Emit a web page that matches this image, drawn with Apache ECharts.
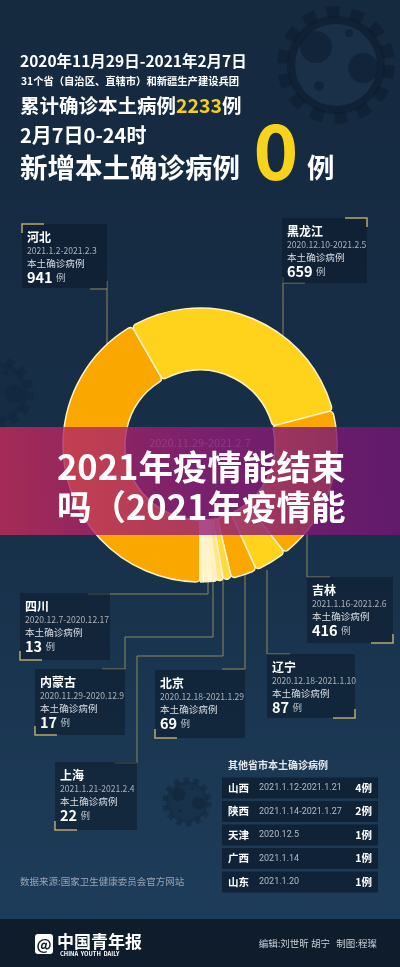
<!DOCTYPE html>
<html><head><meta charset="utf-8">
<script src="https://cdn.jsdelivr.net/npm/echarts@6/dist/echarts.min.js"></script>
<style>html,body{margin:0;padding:0;background:#15293f;}#c{width:400px;height:967px;}</style>
</head><body><div id="c"></div>
<script>
// ---------- data ----------
const provinces = ['河北','黑龙江','吉林','辽宁','北京','上海','内蒙古','四川','山西','陕西','天津','广西','山东'];
const cases     = [941, 659, 416, 87, 69, 22, 17, 13, 4, 2, 1, 1, 1];
const periods   = ['2021.1.2-2021.2.3','2020.12.10-2021.2.5','2021.1.16-2021.2.6','2020.12.18-2021.1.10',
                   '2020.12.18-2021.1.29','2021.1.21-2021.2.4','2020.11.29-2020.12.9','2020.12.7-2020.12.17',
                   '2021.1.12-2021.1.21','2021.1.14-2021.1.27','2020.12.5','2021.1.14','2021.1.20'];
const totalCases = 2233;
const newCases = 0;
const rangeText = '2020年11月29日-2021年2月7日';
const centerRange = '2020.11.29-2021.2.7';
const scopeText = '31个省（自治区、直辖市）和新疆生产建设兵团';
const dayText = '2月7日0-24时';
const bannerLines = ['2021年疫情能结束', '吗（2021年疫情能'];
const sourceText = '数据来源:国家卫生健康委员会官方网站';
const creditText = '编辑:刘世昕 胡宁   制图:程璨';
const otherTitle = '其他省市本土确诊病例';

// ---------- styles / layout ----------
const F = '"Noto Sans CJK SC","Noto Sans",sans-serif';
const sliceColors = ['#FAA800','#FFD21C','#FAA800','#FFD21C','#FAA800','#FFDA3A','#FFE789','#FFF2BE','#FFFBE6','#FFFFFF','#FFF3C8','#FFFFFF','#FFF0B8'];
const lineColor = '#8f885c';
const bracketColor = '#b5a86e';
// callout boxes for first 8 provinces: [x, y, w, h, bracketCorner]
const boxes = [
  [22,224,85,64,'tl'], [282,218,85,65,'tr'], [307,577,86,66,'br'], [267,654,88,64,'br'],
  [155,670,90,68,'bl'], [55,762,82,68,'bl'], [35,669,90,66,'bl'], [20,593,90,67,'bl']
];
const connectors = [
  [[[90,289],[107,289]],[[107,281],[107,350]]],
  [[[305,283],[283,283]],[[283,277],[283,345]]],
  [[[330,577],[307,577],[307,520]]],
  [[[290,654],[267,654],[267,570]]],
  [[[222,669],[245,669],[245,575]]],
  [[[115,763],[137,763],[137,656],[223,656],[223,578]]],
  [[[102,669],[125,669],[125,637],[213,637],[213,580]]],
  [[[88,594],[110,594],[208,594],[208,582]]]
];

function bracket(x, y, c) {
  const L = 22, S = 9;
  let pts;
  if (c === 'tl') pts = [[x, y+S],[x,y],[x+L,y]];
  if (c === 'tr') pts = [[x-L, y],[x,y],[x,y+S]];
  if (c === 'bl') pts = [[x, y-S],[x,y],[x+L,y]];
  if (c === 'br') pts = [[x-L, y],[x,y],[x,y-S]];
  return {type:'polyline', z:1, silent:true, shape:{points:pts}, style:{stroke:bracketColor, lineWidth:1.5, fill:null}};
}
function txt(x, y, text, size, color, weight, align, z, fam) {
  return {type:'text', z: z||3, silent:true, x:x, y:y, style: {
    text:text, fill:color, font:(weight||'normal')+' '+size+'px '+(fam||F),
    align:align||'left', verticalAlign:'middle', textAlign:align||'left', textVerticalAlign:'middle'
  }};
}
function gear(cx, cy, s, alpha, lightAlpha) {
  const els = [];
  const dark = 'rgba(12,28,46,'+alpha+')';
  els.push({type:'circle', z:0, silent:true, shape:{cx, cy, r:53*s}, style:{fill:null, stroke:dark, lineWidth:12*s, lineDash:[13*s,11*s]}});
  els.push({type:'circle', z:0, silent:true, shape:{cx, cy, r:49*s}, style:{fill:dark}});
  els.push({type:'circle', z:0, silent:true, shape:{cx, cy, r:41*s}, style:{fill:'rgba(27,52,78,'+lightAlpha+')'}});
  const holes = [[-20,-18,16],[27,3,15],[-17,21,5],[13,-32,4]];
  holes.forEach(h => els.push({type:'circle', z:0, silent:true, shape:{cx:cx+h[0]*s, cy:cy+h[1]*s, r:h[2]*s}, style:{fill:dark}}));
  return els;
}

const g = [];
// decorations
gear(336, 65, 1, 0.55, 0.8).forEach(e => g.push(e));
gear(187, 802, 0.42, 0.35, 0.5).forEach(e => g.push(e));
gear(-2, 392, 0.6, 0.25, 0.3).forEach(e => g.push(e));

// header
g.push(txt(20, 61, rangeText, 15.5, '#ffffff', 'bold'));
g.push(txt(21, 81, scopeText, 10.3, '#ffffff', 'bold'));
g.push({type:'text', z:3, silent:true, x:20, y:106, style:{
  text:'{a|累计确诊本土病例}{b|'+totalCases+'}{a|例}', verticalAlign:'middle', textVerticalAlign:'middle',
  rich:{a:{fill:'#ffffff', font:'bold 19.5px '+F}, b:{fill:'#F5CF1F', font:'bold 19.5px '+F}}}});
g.push(txt(20, 135, dayText, 20, '#ffffff', 'bold'));
g.push(txt(20, 168, '新增本土确诊病例', 27.5, '#ffffff', 'bold'));
g.push(txt(276, 151, String(newCases), 76, '#F7D31B', 'bold', 'center'));
g.push(txt(307, 168, '例', 27.5, '#ffffff', 'bold'));

// connectors + callout boxes
for (let i = 0; i < 8; i++) {
  const [bx, by, bw, bh, c] = boxes[i];
  connectors[i].forEach(p => g.push({type:'polyline', z:1, silent:true, shape:{points:p}, style:{stroke:lineColor, lineWidth:1, fill:null}}));
  g.push({type:'rect', z:1, silent:true, shape:{x:bx, y:by, width:bw, height:bh}, style:{fill:'rgba(12,26,42,0.55)'}});
  let cx = c==='tl'||c==='bl' ? bx : bx+bw;
  let cy = c==='tl'||c==='tr' ? by : by+bh;
  g.push(bracket(cx, cy, c));
  const tx = bx + 5;
  g.push(txt(tx, by+13, provinces[i], 12, '#ffffff', 'bold'));
  g.push(txt(tx, by+26.5, periods[i], 8.6, '#a9b1ba'));
  g.push(txt(tx, by+39.5, '本土确诊病例', 9.6, '#d9dee3'));
  g.push({type:'text', z:3, silent:true, x:tx, y:by+53, style:{
    text:'{n|'+cases[i]+'} {u|例}', verticalAlign:'middle', textVerticalAlign:'middle',
    rich:{n:{fill:'#ffffff', font:'bold 14.5px '+F}, u:{fill:'#b9c0c8', font:'9.5px '+F}}}});
}

// center range text (under banner)
g.push(txt(200, 443, centerRange, 11, '#8e9aa8', 'normal', 'center', 3));

// other provinces table
g.push(txt(228, 765, otherTitle, 10, '#e6e9ec', 'bold'));
for (let i = 8; i < provinces.length; i++) {
  const k = i - 8;
  const cy = 788 + k * 23.5;
  g.push({type:'rect', z:1, silent:true, shape:{x:222, y:cy-10.5, width:156, height:21}, style:{fill:'rgba(12,27,44,0.75)'}});
  g.push(txt(228, cy, provinces[i], 10.5, '#ffffff', 'bold'));
  g.push(txt(259, cy, periods[i], 9, '#b3bbc4', 'normal', 'left', 3, 'Roboto,"Noto Sans",sans-serif'));
  g.push(txt(372, cy, cases[i] + '例', 10.5, '#ffffff', 'bold', 'right'));
}

// source
g.push(txt(20, 881, sourceText, 9.5, '#98a5b2'));

// footer
g.push({type:'rect', z:1, silent:true, shape:{x:0, y:919, width:400, height:48}, style:{fill:'#0e1c2c'}});
g.push({type:'rect', z:2, silent:true, shape:{x:35, y:934, width:18, height:20, r:3}, style:{fill:'#ffffff'}});
g.push(txt(44, 944, '@', 15, '#0e1c2c', 'bold', 'center'));
g.push(txt(57, 942, '中国青年报', 17, '#ffffff', 'bold'));
g.push(txt(60, 953.5, 'CHINA  YOUTH  DAILY', 5.8, '#ffffff', 'bold'));
g.push(txt(377, 943, creditText, 9.5, '#c9d0d7', 'normal', 'right'));

// banner overlay
g.push({type:'rect', z:10, silent:true, shape:{x:0, y:427, width:400, height:108},
  style:{fill:{type:'linear', x:0, y:0, x2:1, y2:0, colorStops:[
    {offset:0, color:'rgba(196,42,88,0.82)'}, {offset:0.5, color:'rgba(150,28,120,0.78)'}, {offset:1, color:'rgba(110,22,112,0.85)'}]}}});
g.push(txt(57, 467, bannerLines[0], 34.5, '#ffffff', 'bold', 'left', 11));
g.push(txt(57, 507, bannerLines[1], 34.5, '#ffffff', 'bold', 'left', 11));

const chart = echarts.init(document.getElementById('c'), null, {renderer:'canvas'});
chart.setOption({
  animation: false,
  backgroundColor: {type:'linear', x:0, y:0, x2:0, y2:1, colorStops:[
    {offset:0, color:'#15293f'}, {offset:0.5, color:'#172f48'}, {offset:0.93, color:'#1d3c59'}, {offset:1, color:'#1d3c59'}]},
  series: [{
    type:'pie', z:5, silent:true, center:[200,445], radius:[75,137],
    startAngle:270, clockwise:true, minAngle:1, avoidLabelOverlap:false,
    label:{show:false}, labelLine:{show:false},
    itemStyle:{borderColor:'#FFF3C6', borderWidth:1.5, borderRadius:4},
    data: provinces.map((p,i)=>({name:p, value:cases[i], itemStyle:{color:sliceColors[i]}}))
  }],
  graphic: {elements: g}
});
</script></body></html>
